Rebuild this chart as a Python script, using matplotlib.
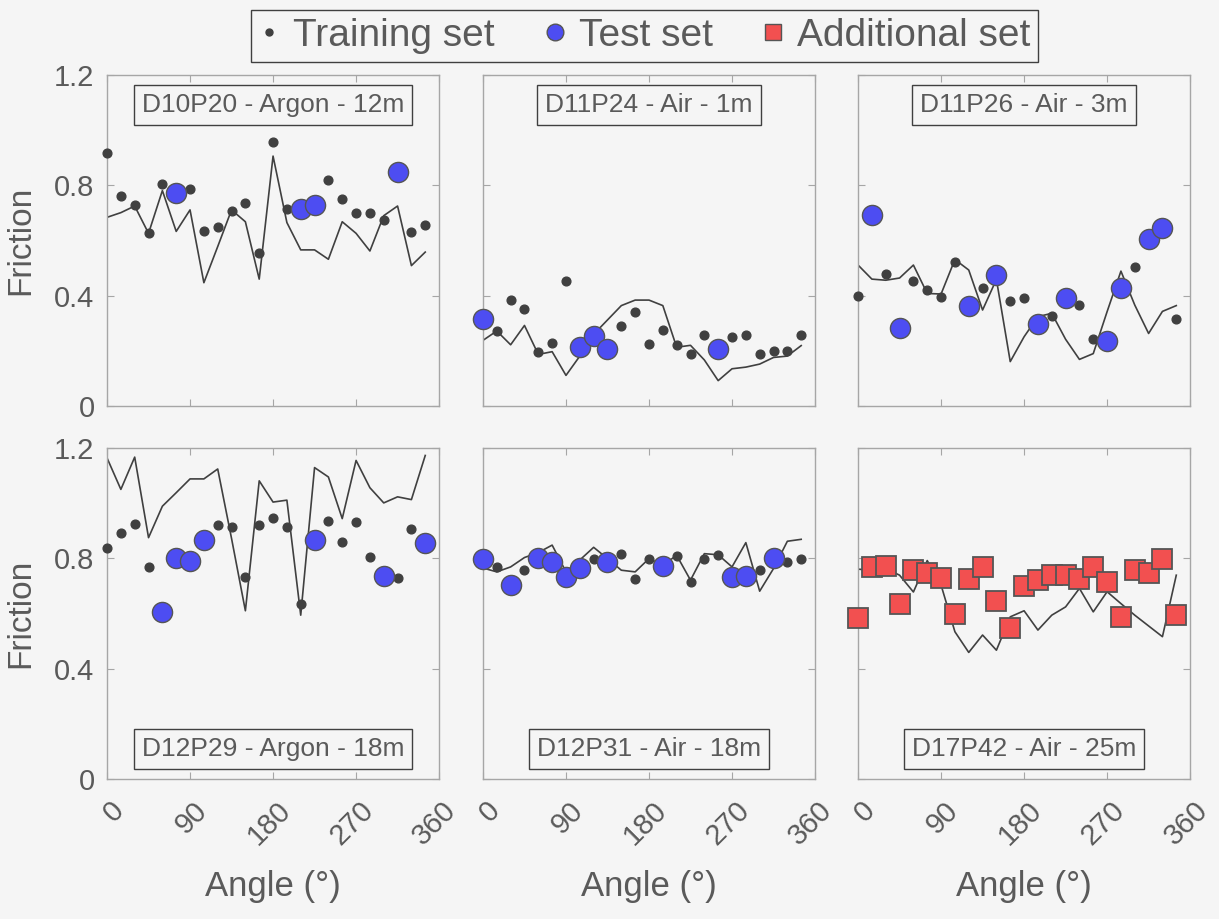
import matplotlib
matplotlib.use("Agg")
import matplotlib.pyplot as plt
from matplotlib.lines import Line2D
from matplotlib.transforms import ScaledTranslation

plt.rcParams['font.family'] = ['Liberation Sans', 'DejaVu Sans']

ANGLES = [0, 15, 30, 45, 60, 75, 90, 105, 120, 135, 150, 165,
          180, 195, 210, 225, 240, 255, 270, 285, 300, 315, 330, 345]

TITLES = ["D10P20 - Argon - 12m", "D11P24 - Air - 1m", "D11P26 - Air - 3m",
          "D12P29 - Argon - 18m", "D12P31 - Air - 18m", "D17P42 - Air - 25m"]

# measured friction per angle
obs_d10p20 = [0.917, 0.763, 0.730, 0.626, 0.806, 0.773, 0.788, 0.633, 0.650, 0.708, 0.735, 0.555,
              0.957, 0.714, 0.715, 0.727, 0.818, 0.752, 0.701, 0.701, 0.676, 0.847, 0.632, 0.657]
obs_d11p24 = [0.317, 0.273, 0.385, 0.353, 0.197, 0.230, 0.452, 0.215, 0.255, 0.208, 0.291, 0.341,
              0.225, 0.274, 0.222, 0.187, 0.257, 0.205, 0.250, 0.257, 0.189, 0.199, 0.201, 0.257]
obs_d11p26 = [0.400, 0.691, 0.479, 0.284, 0.452, 0.419, 0.394, 0.523, 0.363, 0.428, 0.476, 0.381,
              0.392, 0.297, 0.326, 0.390, 0.366, 0.244, 0.237, 0.429, 0.504, 0.605, 0.644, 0.314]
obs_d12p29 = [0.839, 0.893, 0.925, 0.768, 0.605, 0.800, 0.791, 0.868, 0.922, 0.914, 0.732, 0.920,
              0.947, 0.913, 0.633, 0.866, 0.934, 0.858, 0.930, 0.806, 0.736, 0.730, 0.908, 0.854]
obs_d12p31 = [0.799, 0.769, 0.705, 0.756, 0.800, 0.786, 0.732, 0.765, 0.798, 0.788, 0.815, 0.724,
              0.799, 0.771, 0.808, 0.715, 0.797, 0.813, 0.734, 0.736, 0.756, 0.803, 0.788, 0.798]
obs_d17p42 = [0.584, 0.768, 0.771, 0.633, 0.756, 0.746, 0.727, 0.600, 0.726, 0.770, 0.646, 0.547,
              0.699, 0.722, 0.738, 0.741, 0.724, 0.770, 0.715, 0.586, 0.758, 0.746, 0.798, 0.594]

# angles belonging to the test set (others: training set); last panel = additional set
test_d10p20 = [75, 210, 225, 315]
test_d11p24 = [0, 105, 120, 135, 255]
test_d11p26 = [15, 45, 120, 150, 195, 225, 270, 285, 315, 330]
test_d12p29 = [60, 75, 90, 105, 225, 300, 345]
test_d12p31 = [0, 30, 60, 75, 90, 105, 135, 195, 270, 285, 315]

# model prediction (line)
pred_d10p20 = [0.684, 0.701, 0.725, 0.626, 0.781, 0.633, 0.711, 0.447, 0.578, 0.711, 0.668, 0.460,
               0.906, 0.665, 0.566, 0.566, 0.532, 0.668, 0.626, 0.562, 0.690, 0.725, 0.509, 0.558]
pred_d11p24 = [0.238, 0.272, 0.222, 0.292, 0.187, 0.197, 0.111, 0.181, 0.260, 0.312, 0.364, 0.384,
               0.384, 0.364, 0.213, 0.220, 0.167, 0.092, 0.135, 0.141, 0.152, 0.176, 0.181, 0.219]
pred_d11p26 = [0.511, 0.460, 0.456, 0.464, 0.511, 0.408, 0.406, 0.531, 0.493, 0.348, 0.459, 0.161,
               0.251, 0.324, 0.336, 0.242, 0.169, 0.190, 0.342, 0.489, 0.366, 0.263, 0.343, 0.364]
pred_d12p29 = [1.164, 1.050, 1.167, 0.875, 0.989, 1.038, 1.088, 1.088, 1.124, 0.872, 0.610, 1.081,
               1.004, 1.011, 0.594, 1.129, 1.095, 0.944, 1.155, 1.056, 1.001, 1.023, 1.013, 1.173]
pred_d12p31 = [0.765, 0.751, 0.769, 0.803, 0.821, 0.848, 0.751, 0.794, 0.840, 0.799, 0.757, 0.751,
               0.799, 0.775, 0.811, 0.721, 0.817, 0.813, 0.769, 0.857, 0.681, 0.763, 0.862, 0.869]
pred_d17p42 = [0.761, 0.756, 0.763, 0.739, 0.678, 0.792, 0.703, 0.534, 0.459, 0.522, 0.467, 0.588,
               0.610, 0.540, 0.594, 0.624, 0.691, 0.606, 0.679, 0.636, 0.594, 0.555, 0.516, 0.739]

X_TICKS = [0, 90, 180, 270, 360]
Y_TICKS = [0, 0.4, 0.8, 1.2]
Y_TICKLABELS = ["0", "0.4", "0.8", "1.2"]

BG = "#f5f5f5"
TXT = "#5a5a5a"
SPINE = "#a6a6a6"
DARK = "#404040"
BLUE = "#4d4df2"
RED = "#f25050"

panels = [
    (obs_d10p20, test_d10p20, pred_d10p20, False),
    (obs_d11p24, test_d11p24, pred_d11p24, False),
    (obs_d11p26, test_d11p26, pred_d11p26, False),
    (obs_d12p29, test_d12p29, pred_d12p29, False),
    (obs_d12p31, test_d12p31, pred_d12p31, False),
    (obs_d17p42, [], pred_d17p42, True),
]

fig = plt.figure(figsize=(12.19, 9.19), dpi=100, facecolor=BG)
lefts = [0.0878, 0.3962, 0.7039]
bottoms = [0.5582, 0.1523]
W, H = 0.2724, 0.3602
shift = ScaledTranslation(13 / 100, 0, fig.dpi_scale_trans)

for i, (obs, test, pred, additional) in enumerate(panels):
    r, c = divmod(i, 3)
    ax = fig.add_axes([lefts[c], bottoms[r], W, H])
    ax.set_facecolor(BG)
    ax.plot(ANGLES, pred, color=DARK, lw=1.2, zorder=2)
    if additional:
        ax.plot(ANGLES, obs, ls="none", marker="s", ms=14.5, mfc=RED, mec="#555555",
                mew=1.3, zorder=4, clip_on=False)
    else:
        tr_x = [a for a, v in zip(ANGLES, obs) if a not in test]
        tr_y = [v for a, v in zip(ANGLES, obs) if a not in test]
        te_x = [a for a, v in zip(ANGLES, obs) if a in test]
        te_y = [v for a, v in zip(ANGLES, obs) if a in test]
        ax.plot(tr_x, tr_y, ls="none", marker="o", ms=6.3, mfc=DARK, mec=DARK, zorder=3, clip_on=False)
        ax.plot(te_x, te_y, ls="none", marker="o", ms=14.5, mfc=BLUE, mec="#555555",
                mew=1.0, zorder=4, clip_on=False)
    ax.set_xlim(0, 360)
    ax.set_ylim(0, 1.2)
    ax.set_xticks(X_TICKS)
    ax.set_yticks(Y_TICKS)
    ax.tick_params(direction="in", length=5, width=0.8, color=SPINE,
                   top=True, right=True, labelcolor=TXT, labelsize=21)
    ax.tick_params(axis="y", pad=9)
    ax.tick_params(axis="x", pad=19.5)
    for s in ax.spines.values():
        s.set_color(SPINE)
        s.set_linewidth(1.0)
    if c == 0:
        ax.set_yticklabels(Y_TICKLABELS)
        ax.set_ylabel("Friction", fontsize=24, color=TXT, labelpad=13)
    else:
        ax.set_yticklabels([])
    if r == 1:
        ax.set_xticklabels([str(t) for t in X_TICKS], rotation=45, ha="right", va="center",
                           rotation_mode="anchor")
        for lbl in ax.get_xticklabels():
            lbl.set_transform(lbl.get_transform() + shift)
        ax.set_xlabel("Angle (°)", fontsize=25, color=TXT, labelpad=14)
    else:
        ax.set_xticklabels([])
    ty = 0.909 if r == 0 else 0.091
    ax.text(0.5, ty, TITLES[i], transform=ax.transAxes, ha="center", va="center",
            fontsize=19, color=TXT, zorder=6,
            bbox=dict(boxstyle="square,pad=0.3", fc=BG, ec=DARK, lw=1.0))

handles = [
    Line2D([], [], ls="none", marker="o", ms=5, mfc=DARK, mec=DARK),
    Line2D([], [], ls="none", marker="o", ms=12, mfc=BLUE, mec="#555555", mew=1.0),
    Line2D([], [], ls="none", marker="s", ms=11, mfc=RED, mec="#555555", mew=1.0),
]
leg = fig.legend(handles, ["Training set", "Test set", "Additional set"], loc="center",
                 bbox_to_anchor=(0.529, 0.961), ncol=3, fontsize=28, frameon=True,
                 fancybox=False, edgecolor=DARK, facecolor=BG, handlelength=0.5,
                 handletextpad=0.37, columnspacing=1.3, borderpad=0.2, labelcolor=TXT)
leg.get_frame().set_linewidth(1.0)
leg.get_frame().set_alpha(None)

fig.savefig("out.png", dpi=100, facecolor=BG)
